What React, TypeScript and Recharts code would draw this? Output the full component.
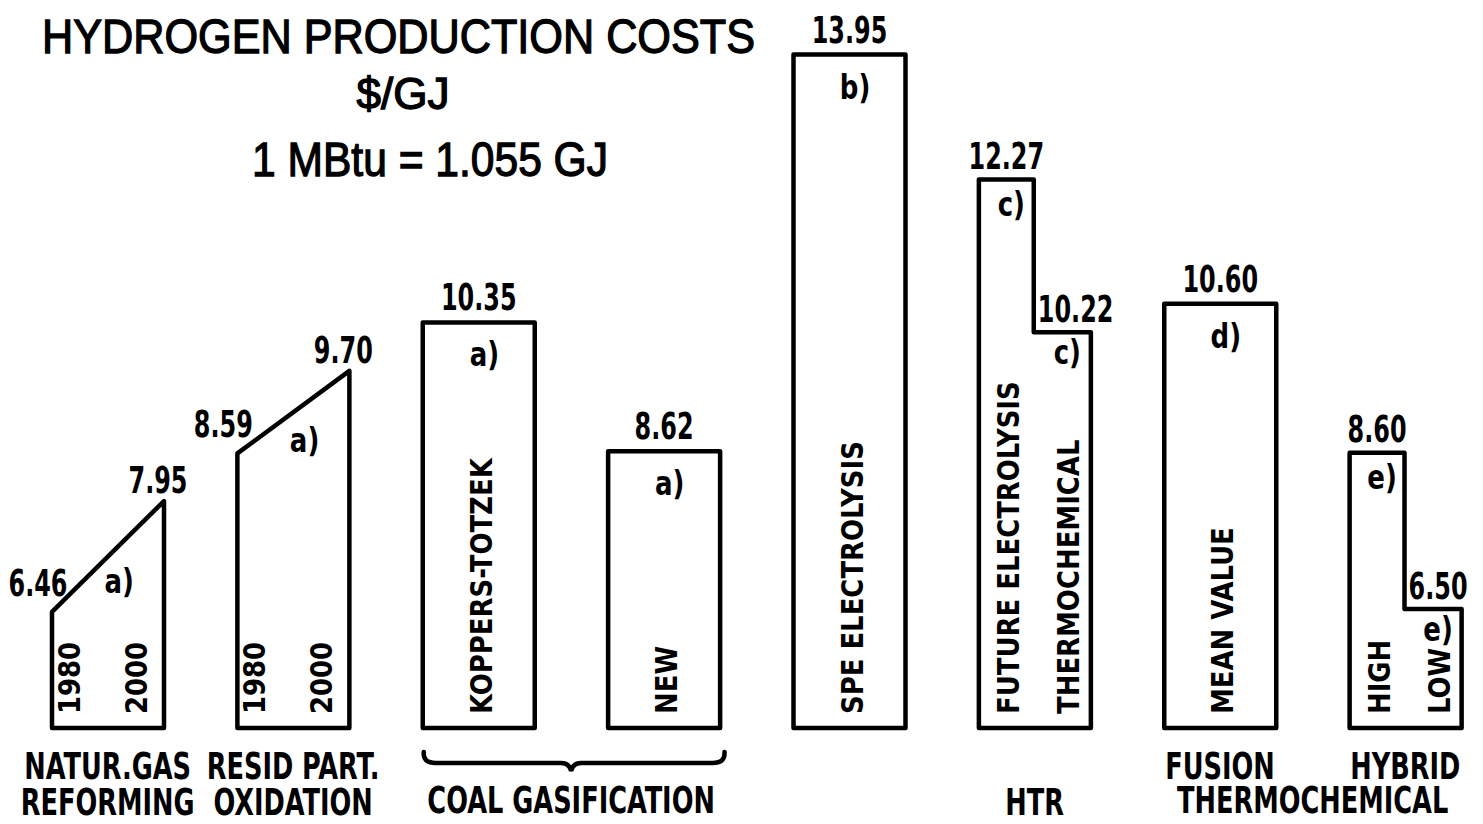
import { BarChart, Bar, XAxis, YAxis, ReferenceArea } from "recharts";

// cost of hydrogen, $/GJ
const processes = ["natGas", "resid", "koppers", "coalNew", "spe", "htr", "fusion", "hybrid"];
const startCost = [6.46, 8.59, 10.35, 8.62, 13.95, 12.27, 10.6, 8.6];
const endCost = [7.95, 9.7, 10.35, 8.62, 13.95, 10.22, 10.6, 6.5];
const outline = ["slope", "slope", "flat", "flat", "flat", "step", "flat", "step"];
const notes = ["a)", "a)", "a)", "a)", "b)", "c)", "d)", "e)"];
const insideText = [
  ["1980", "2000"],
  ["1980", "2000"],
  ["KOPPERS-TOTZEK"],
  ["NEW"],
  ["SPE ELECTROLYSIS"],
  ["FUTURE ELECTROLYSIS", "THERMOCHEMICAL"],
  ["MEAN VALUE"],
  ["HIGH", "LOW"],
];
const tickLine1 = ["NATUR.GAS", "RESID  PART.", "", "", "", "", "FUSION", "HYBRID"];
const tickLine2 = ["REFORMING", "OXIDATION", "", "", "", "HTR", "", ""];
const groups = [
  { label: "COAL GASIFICATION", from: "koppers", to: "coalNew", brace: true },
  { label: "THERMOCHEMICAL", from: "fusion", to: "hybrid", brace: false },
];

const Y_MIN = 4.9;
const Y_MAX = 14.2;
const HAND = "'DejaVu Sans Condensed', 'DejaVu Sans', sans-serif";
const TITLE = "'Liberation Sans', Arial, sans-serif";

const rows = processes.map((name, i) => ({
  name,
  top: Math.max(startCost[i], endCost[i]),
  start: startCost[i],
  end: endCost[i],
  kind: outline[i],
  note: notes[i],
  inside: insideText[i],
}));

// narrow bold lettering, squeezed horizontally
function CText({ x, y, size = 38, sx = 0.7, anchor = "middle", children }: any) {
  return (
    <text transform={`translate(${x} ${y}) scale(${sx} 1)`} fontFamily={HAND} fontWeight={700}
      fontSize={size} fill="#000" textAnchor={anchor}>
      {children}
    </text>
  );
}

function VText({ x, y, children }: { x: number; y: number; children: string }) {
  return (
    <text transform={`translate(${x} ${y}) rotate(-90) scale(0.93 1)`} fontFamily={HAND} fontWeight={700}
      fontSize={31} fill="#000" textAnchor="start" dominantBaseline="central">
      {children}
    </text>
  );
}

function Note({ x, y, children }: any) {
  return <CText x={x} y={y} size={34} sx={0.85}>{children}</CText>;
}

function CostShape(props: any) {
  const { x, y, width, height, payload } = props;
  const bottom = y + height;
  const px = height / (payload.top - Y_MIN);
  const yOf = (v: number) => bottom - (v - Y_MIN) * px;
  const y1 = yOf(payload.start);
  const y2 = yOf(payload.end);
  const right = x + width;
  const mid = x + width * 0.49;
  const vBase = bottom - 14;
  let d = "";
  const parts: any[] = [];

  if (payload.kind === "slope") {
    d = `M${x},${bottom} L${x},${y1} L${right},${y2} L${right},${bottom} Z`;
    const nx = x + width * 0.6;
    const slopeY = y1 + (y2 - y1) * 0.6;
    parts.push(
      <CText key="v1" x={x - 14} y={y1 - 16}>{payload.start.toFixed(2)}</CText>,
      <CText key="v2" x={right - 6} y={y2 - 8}>{payload.end.toFixed(2)}</CText>,
      <Note key="n" x={nx} y={slopeY + 48}>{payload.note}</Note>,
      <VText key="i1" x={x + width * 0.15} y={vBase}>{payload.inside[0]}</VText>,
      <VText key="i2" x={x + width * 0.75} y={vBase}>{payload.inside[1]}</VText>,
    );
  } else if (payload.kind === "step") {
    d = `M${x},${bottom} L${x},${y1} L${mid},${y1} L${mid},${y2} L${right},${y2} L${right},${bottom} Z`;
    parts.push(
      <CText key="v1" x={(x + mid) / 2} y={y1 - 11}>{payload.start.toFixed(2)}</CText>,
      <CText key="v2" x={mid + 4} y={y2 - 10} anchor="start">{payload.end.toFixed(2)}</CText>,
      <Note key="n1" x={(x + mid) / 2 + 5} y={y1 + 36}>{payload.note}</Note>,
      <Note key="n2" x={(mid + right) / 2 + 5} y={y2 + 32}>{payload.note}</Note>,
      <VText key="i1" x={x + width * 0.26} y={vBase}>{payload.inside[0]}</VText>,
      <VText key="i2" x={x + width * 0.8} y={vBase}>{payload.inside[1]}</VText>,
    );
  } else {
    d = `M${x},${bottom} L${x},${y1} L${right},${y1} L${right},${bottom} Z`;
    parts.push(
      <CText key="v1" x={x + width / 2} y={y1 - 12}>{payload.start.toFixed(2)}</CText>,
      <Note key="n" x={x + width * 0.55} y={y1 + 44}>{payload.note}</Note>,
      <VText key="i1" x={x + width * 0.52} y={vBase}>{payload.inside[0]}</VText>,
    );
  }

  return (
    <g>
      <path d={d} fill="#fff" stroke="#000" strokeWidth={4.5} strokeLinejoin="round" />
      {parts}
    </g>
  );
}

function ProcessTick(props: any) {
  const { x, y, index } = props;
  return (
    <g>
      <CText x={x} y={y + 43} sx={0.75}>{tickLine1[index]}</CText>
      <CText x={x} y={y + 79} sx={0.75}>{tickLine2[index]}</CText>
    </g>
  );
}

function GroupLabel(props: any) {
  const { x, width, y, height, label, brace } = props;
  const bottom = y + height;
  const cx = x + width / 2;
  const l = x + 38;
  const r = x + width - 32;
  return (
    <g>
      {brace && (
        <path
          d={`M${l},${bottom + 24} Q${l - 1},${bottom + 35} ${l + 12},${bottom + 35} L${cx - 10},${bottom + 35} Q${cx - 2},${bottom + 35} ${cx},${bottom + 43} Q${cx + 2},${bottom + 35} ${cx + 10},${bottom + 35} L${r - 12},${bottom + 35} Q${r + 1},${bottom + 35} ${r},${bottom + 24}`}
          fill="none" stroke="#000" strokeWidth={4.5} strokeLinecap="round"
        />
      )}
      <CText x={cx} y={bottom + 85} sx={0.75}>{label}</CText>
    </g>
  );
}

export default function App() {
  return (
    <div style={{ position: "relative", width: 1483, height: 824, overflow: "hidden", background: "#fff" }}>
      <style>{"body{margin:0;overflow:hidden}"}</style>
      <BarChart width={1500} height={824} data={rows} margin={{ top: 36, right: 2, left: 15, bottom: 0 }}>
        <XAxis dataKey="name" axisLine={false} tickLine={false} interval={0} height={96} tick={<ProcessTick />} />
        <YAxis hide domain={[Y_MIN, Y_MAX]} />
        {groups.map(g => (
          <ReferenceArea key={g.label} x1={g.from} x2={g.to} ifOverflow="visible"
            shape={(p: any) => <GroupLabel {...p} label={g.label} brace={g.brace} />} />
        ))}
        <Bar dataKey="top" barSize={112} shape={CostShape} isAnimationActive={false} />
      </BarChart>
      <svg width={1483} height={200} style={{ position: "absolute", left: 0, top: 0, pointerEvents: "none" }}>
        <text fontFamily={TITLE} fontSize={48} x={42} y={53} textLength={713} lengthAdjust="spacingAndGlyphs"
          stroke="#000" strokeWidth={1.3}>HYDROGEN PRODUCTION COSTS</text>
        <text fontFamily={TITLE} fontSize={44} x={403} y={109} textAnchor="middle"
          stroke="#000" strokeWidth={1.3}>$/GJ</text>
        <text fontFamily={TITLE} fontSize={48} x={252} y={176} textLength={356} lengthAdjust="spacingAndGlyphs"
          stroke="#000" strokeWidth={1.3}>1 MBtu = 1.055 GJ</text>
      </svg>
    </div>
  );
}
